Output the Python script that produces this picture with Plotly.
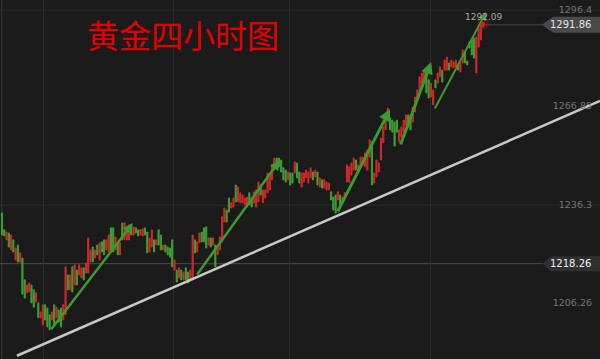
import plotly.graph_objects as go

# ---- candle data (4h bars): top / bottom of each bar and direction (1 = rising, drawn red) ----
highs = [
    1233.9, 1228.7, 1228.0, 1227.7, 1227.1, 1225.6, 1223.1, 1224.0, 1221.6, 1220.0,
    1213.3, 1211.7, 1212.3, 1211.7, 1210.2, 1209.3, 1206.2, 1203.4, 1205.6, 1205.6,
    1204.6, 1202.5, 1203.4, 1205.6, 1204.9, 1204.0, 1204.6, 1205.6, 1217.3, 1214.8,
    1214.8, 1217.3, 1217.9, 1216.3, 1217.9, 1217.0, 1217.0, 1218.5, 1226.2, 1222.5,
    1223.4, 1222.5, 1224.0, 1224.7, 1225.0, 1225.6, 1225.6, 1227.1, 1229.3,
    1229.3, 1226.5, 1224.7, 1224.7, 1230.8, 1230.8, 1229.3, 1230.2, 1229.6, 1229.6,
    1229.3, 1228.7, 1228.7, 1229.0, 1229.3, 1228.0, 1226.2, 1228.7, 1225.6, 1225.6,
    1228.7, 1227.1, 1224.0, 1224.0, 1223.4, 1223.1, 1225.6, 1219.4, 1216.3, 1217.0,
    1216.3, 1215.7, 1217.0, 1215.7, 1216.3, 1227.1, 1225.6, 1225.0, 1227.7, 1228.0,
    1229.3, 1229.6, 1226.2, 1226.2, 1226.2, 1224.0, 1223.4, 1226.5, 1232.7,
    1235.4, 1234.8, 1238.5, 1237.0, 1238.5, 1242.5, 1241.9, 1240.1, 1239.4, 1238.5,
    1238.8, 1240.1, 1238.5, 1240.4, 1241.0, 1243.4, 1242.5, 1241.0, 1241.0, 1246.2,
    1246.2, 1248.7, 1250.8, 1250.8, 1250.8, 1250.2, 1247.8, 1247.1, 1246.5, 1246.2,
    1246.2, 1249.6, 1249.3, 1246.5, 1246.2, 1246.2, 1247.1, 1246.5, 1247.8, 1246.5,
    1247.1, 1246.5, 1244.7, 1244.1, 1244.1, 1243.4, 1243.1, 1240.4, 1238.8,
    1239.4, 1240.4, 1239.4, 1238.8, 1240.1, 1248.7, 1248.1, 1249.3, 1250.8, 1250.2,
    1248.7, 1251.1, 1251.1, 1252.4, 1253.3, 1256.4, 1255.8, 1246.2, 1250.2, 1249.3,
    1257.0, 1260.4, 1263.5, 1266.2, 1263.2, 1262.5, 1261.9, 1262.5, 1259.5, 1260.4,
    1262.5, 1264.1, 1264.1, 1263.2, 1266.5, 1269.6, 1271.8, 1275.8, 1277.0, 1277.3,
    1277.9, 1274.9, 1273.9, 1271.8, 1274.9, 1277.0, 1278.9, 1277.9, 1281.0,
    1281.9, 1280.1, 1281.0, 1280.4, 1281.0, 1279.5, 1280.1, 1284.1, 1283.5, 1280.7,
    1286.6, 1287.2, 1287.8, 1288.1, 1290.9, 1291.8, 1292.09,
]
lows = [
    1227.1, 1226.8, 1225.6, 1223.4, 1222.5, 1221.9, 1219.4, 1218.8, 1218.8, 1208.9,
    1207.7, 1209.3, 1209.6, 1206.2, 1204.9, 1206.5, 1201.6, 1201.6, 1199.4, 1200.9,
    1198.8, 1197.9, 1200.9, 1199.4, 1201.6, 1200.3, 1198.8, 1200.9, 1202.5, 1210.2,
    1210.2, 1209.6, 1211.7, 1211.7, 1214.8, 1213.9, 1213.3, 1215.4, 1215.4, 1218.8,
    1218.8, 1220.0, 1221.0, 1219.4, 1221.9, 1221.0, 1222.5, 1221.9, 1222.5,
    1221.9, 1222.5, 1221.0, 1221.0, 1225.6, 1225.6, 1225.6, 1225.6, 1227.1, 1227.1,
    1227.7, 1226.8, 1227.1, 1226.8, 1227.1, 1221.6, 1221.9, 1223.4, 1221.9, 1224.0,
    1224.0, 1222.5, 1222.5, 1221.9, 1221.0, 1220.3, 1217.3, 1216.3, 1212.6, 1213.9,
    1213.3, 1213.3, 1213.3, 1212.3, 1213.3, 1213.3, 1221.6, 1221.9, 1224.7, 1225.0,
    1225.0, 1223.1, 1224.0, 1223.4, 1224.0, 1217.3, 1221.0, 1222.5, 1225.0,
    1231.1, 1231.1, 1234.2, 1235.4, 1235.7, 1237.3, 1237.3, 1237.0, 1237.0, 1236.4,
    1235.7, 1236.4, 1235.7, 1237.0, 1235.7, 1237.3, 1239.4, 1237.0, 1238.5, 1240.1,
    1241.0, 1244.1, 1247.1, 1248.7, 1248.1, 1246.5, 1244.1, 1243.4, 1244.1, 1242.5,
    1243.1, 1246.2, 1244.7, 1243.1, 1241.9, 1243.4, 1244.7, 1243.1, 1244.7, 1244.1,
    1245.0, 1242.5, 1241.9, 1241.6, 1241.6, 1241.0, 1241.0, 1237.9, 1234.8,
    1233.9, 1237.9, 1236.4, 1237.0, 1238.5, 1243.4, 1243.4, 1245.6, 1247.1, 1247.1,
    1246.5, 1248.1, 1248.7, 1248.1, 1247.1, 1251.1, 1242.5, 1243.1, 1245.0, 1246.5,
    1250.2, 1255.5, 1259.5, 1262.5, 1259.5, 1258.8, 1254.5, 1258.8, 1255.8, 1257.3,
    1258.8, 1261.0, 1260.4, 1259.5, 1261.9, 1265.0, 1268.7, 1271.2, 1273.9, 1274.9,
    1270.9, 1269.3, 1269.6, 1267.2, 1272.4, 1273.9, 1275.8, 1274.2, 1277.9,
    1277.9, 1277.9, 1278.9, 1278.6, 1278.9, 1277.9, 1277.3, 1280.1, 1280.1, 1279.5,
    1284.7, 1282.6, 1281.6, 1277.0, 1285.0, 1287.2, 1291.2,
]
rising = [
    0, 0, 1, 0, 1, 0, 1, 0, 1, 0, 0, 1, 1, 0, 0, 1, 0, 1, 1, 0,
    0, 0, 1, 0, 1, 0, 0, 1, 1, 0, 1, 0, 1, 0, 1, 1, 0, 1, 1, 1,
    0, 1, 0, 1, 0, 0, 1, 1, 0,
    0, 1, 0, 1, 0, 1, 1, 1, 0, 1, 0, 0, 1, 1, 0, 0, 1, 1, 0, 1,
    0, 0, 1, 0, 0, 0, 0, 1, 0, 1, 0, 1, 0, 0, 1, 1, 0, 1, 1, 0,
    0, 0, 1, 0, 1, 0, 1, 1, 1,
    1, 0, 0, 1, 1, 0, 1, 1, 1, 1, 1, 0, 0, 1, 1, 1, 0, 1, 1, 1,
    1, 1, 1, 0, 0, 0, 0, 0, 1, 0, 0, 1, 0, 0, 1, 1, 1, 1, 1, 0,
    1, 0, 1, 0, 1, 1, 1, 0, 0,
    0, 1, 0, 1, 1, 1, 1, 1, 1, 0, 1, 1, 1, 1, 1, 1, 0, 1, 1, 1,
    1, 1, 1, 1, 0, 0, 0, 0, 1, 1, 1, 1, 0, 0, 1, 1, 1, 1, 1, 1,
    0, 0, 1, 1, 0, 1, 1, 0, 1,
    1, 0, 1, 1, 1, 0, 1, 1, 0, 0, 0, 0, 0, 1, 1, 1, 1,
]

# price levels shown on the right axis
tick_prices = [1296.4, 1266.85, 1236.3, 1206.26]
tick_labels = ["1296.4", "1266.85", "1236.3", "1206.26"]
grid_prices = [1296.4, 1236.3]
time_grid = [18.5, 75.4, 126.9, 188.6, 245.9]   # bar index of date separators

last_price = 1291.86
session_high = 1292.09
ref_price = 1218.26

# hand-drawn analysis: green up-arrows (tail index, tail price, head index, head price, width)
arrows = [
    (21.2, 1197.6, 57.7, 1230.8, 2.5),
    (85.5, 1214.5, 122.5, 1250.2, 2.5),
    (147.6, 1233.9, 171.0, 1265.9, 3.0),
    (175.4, 1254.5, 189.1, 1280.4, 3.0),
    (190.4, 1265.6, 213.3, 1295.8, 2.0),
]
trend_idx = [6.6, 263.5]
trend_price = [1189.9, 1268.4]

idx = list(range(len(highs)))
opens = [lo if r else hi for hi, lo, r in zip(highs, lows, rising)]
closes = [hi if r else lo for hi, lo, r in zip(highs, lows, rising)]

RED = "#d02a2a"
GREEN = "#3f9f35"
BG = "#1b1b1b"

fig = go.Figure()
fig.add_trace(go.Candlestick(
    x=idx, open=opens, high=highs, low=lows, close=closes,
    increasing=dict(line=dict(color=RED, width=1), fillcolor=RED),
    decreasing=dict(line=dict(color=GREEN, width=1), fillcolor=GREEN),
    whiskerwidth=0, hoverinfo="skip", showlegend=False,
))

# trend line
fig.add_trace(go.Scatter(x=trend_idx, y=trend_price, mode="lines",
                         line=dict(color="#c8c8c8", width=2.5),
                         hoverinfo="skip", showlegend=False))

# glow on last price
fig.add_trace(go.Scatter(x=[idx[-1]], y=[session_high], mode="markers",
                         marker=dict(size=12, color="rgba(220,30,30,0.25)"),
                         hoverinfo="skip", showlegend=False))
fig.add_trace(go.Scatter(x=[idx[-1]], y=[session_high], mode="markers",
                         marker=dict(size=4, color="#e02020"),
                         hoverinfo="skip", showlegend=False))

shapes = []
for gp in grid_prices:
    shapes.append(dict(type="line", xref="paper", x0=0, x1=1, yref="y", y0=gp, y1=gp,
                       line=dict(color="#2c2c2c", width=1), layer="below"))
shapes.append(dict(type="line", xref="paper", x0=0.003, x1=0.003, yref="paper", y0=0, y1=1,
                   line=dict(color="#3a3a3a", width=1), layer="below"))
shapes.append(dict(type="line", xref="paper", x0=0, x1=0.905, yref="y", y0=ref_price, y1=ref_price,
                   line=dict(color="#4a4a4a", width=1), layer="below"))
shapes.append(dict(type="line", xref="x", x0=idx[-1], x1=238, yref="y", y0=last_price, y1=last_price,
                   line=dict(color="#444444", width=1), layer="below"))
# price label boxes
shapes.append(dict(type="path", xref="paper", yref="y",
                   path=f"M 0.903,{last_price} L 0.922,{last_price+2.46} L 1,{last_price+2.46} "
                        f"L 1,{last_price-2.46} L 0.922,{last_price-2.46} Z",
                   fillcolor="#4a4a4a", line=dict(width=0)))
shapes.append(dict(type="path", xref="paper", yref="y",
                   path=f"M 0.905,{ref_price} L 0.918,{ref_price+2.3} L 1,{ref_price+2.3} "
                        f"L 1,{ref_price-2.3} L 0.918,{ref_price-2.3} Z",
                   fillcolor="#303030", line=dict(width=0)))

annotations = []
for (ti, tp, hi_, hp, w) in arrows:
    annotations.append(dict(x=hi_, y=hp, ax=ti, ay=tp, xref="x", yref="y", axref="x", ayref="y",
                            showarrow=True, arrowhead=2, arrowsize=0.8, arrowwidth=w,
                            arrowcolor="#3c9a2e", text=""))
annotations.append(dict(x=0.141, y=0.905, xref="paper", yref="paper", xanchor="left", yanchor="middle",
                        text="黄金四小时图", showarrow=False,
                        font=dict(family="Noto Sans CJK SC", size=32, color="#e50000")))
annotations.append(dict(x=0.988, y=last_price, xref="paper", yref="y", xanchor="right", yanchor="middle",
                        text=f"{last_price:.2f}", showarrow=False,
                        font=dict(family="DejaVu Sans", size=10, color="#e6e6e6")))
annotations.append(dict(x=0.988, y=ref_price, xref="paper", yref="y", xanchor="right", yanchor="middle",
                        text=f"{ref_price:.2f}", showarrow=False,
                        font=dict(family="DejaVu Sans", size=10, color="#f0f0f0")))
annotations.append(dict(x=idx[-1], y=session_high, xref="x", yref="y", xanchor="center", yanchor="middle",
                        yshift=7, text=f"{session_high:.2f}", showarrow=False,
                        font=dict(family="DejaVu Sans", size=9, color="#a8a8a8")))

fig.update_layout(
    width=600, height=359, margin=dict(l=0, r=0, t=0, b=0),
    paper_bgcolor=BG, plot_bgcolor=BG, showlegend=False,
    xaxis=dict(range=[-0.88, 263.5], tickvals=time_grid, showticklabels=False, ticks="",
               showgrid=True, gridcolor="#2a2a2a", gridwidth=1, zeroline=False,
               rangeslider=dict(visible=False), showline=False),
    yaxis=dict(range=[1188.9, 1299.5], side="right", tickvals=tick_prices, ticktext=tick_labels,
               ticklabelposition="inside", ticklabelstandoff=5, ticks="", showgrid=False,
               zeroline=False, showline=False,
               tickfont=dict(family="DejaVu Sans", size=9.5, color="#767676")),
    shapes=shapes, annotations=annotations,
)

fig.write_html("out.html")
